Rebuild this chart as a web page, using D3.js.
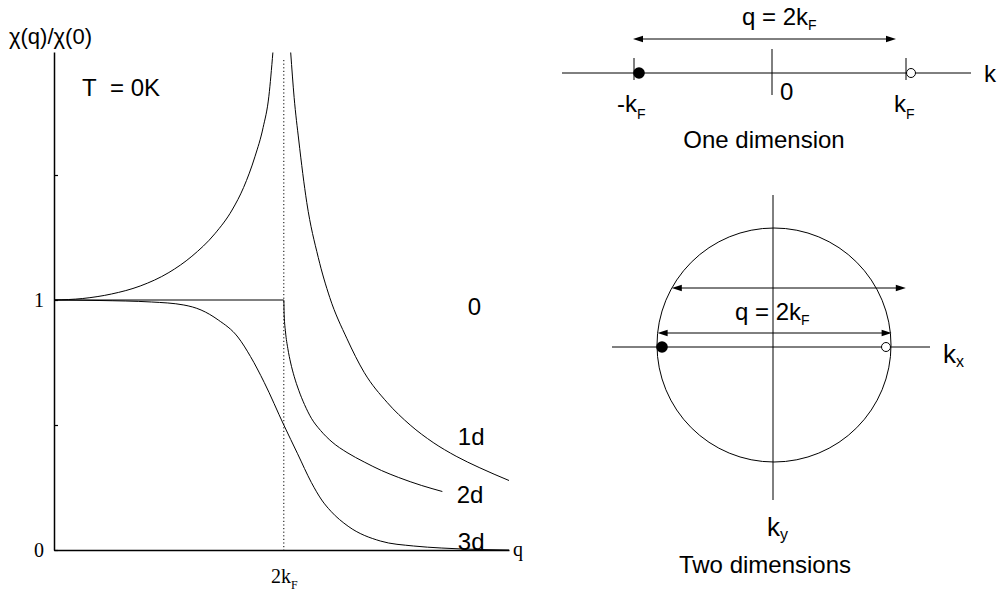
<!DOCTYPE html>
<html>
<head>
<meta charset="utf-8">
<script src="https://cdn.jsdelivr.net/npm/d3@7"></script>
<style>
  body { margin: 0; background: #fff; }
  svg { display: block; }
</style>
</head>
<body>
<svg id="chart" width="999" height="597"></svg>
<script>
// Static susceptibility chi(q)/chi(0) at T = 0K; q in units of k_F.
const q1dBelow   = [0, 0.25, 0.5, 0.75, 1.0, 1.2, 1.4, 1.55, 1.65, 1.75, 1.82, 1.87, 1.905];
const chi1dBelow = [1.0, 1.006, 1.024, 1.056, 1.11, 1.175, 1.265, 1.36, 1.45, 1.575, 1.69, 1.815, 1.99];

const q1dAbove   = [2.06, 2.09, 2.13, 2.2, 2.3, 2.4, 2.55, 2.7, 2.9, 3.1, 3.3, 3.5, 3.7, 3.96];
const chi1dAbove = [1.99, 1.81, 1.64, 1.39, 1.17, 1.01, 0.845, 0.71, 0.59, 0.5, 0.43, 0.375, 0.33, 0.278];

const q2d   = [0, 2.0, 2.003, 2.015, 2.035, 2.06, 2.09, 2.13, 2.18, 2.24, 2.32, 2.42, 2.55, 2.7, 2.85, 3.0, 3.2, 3.38];
const chi2d = [1.0, 1.0, 0.943, 0.872, 0.806, 0.748, 0.695, 0.639, 0.582, 0.527, 0.478, 0.432, 0.39, 0.352, 0.318, 0.29, 0.258, 0.234];

const q3d   = [0, 0.4, 0.85, 1.13, 1.28, 1.43, 1.6, 1.71, 1.83, 2.0, 2.12, 2.24, 2.33, 2.41, 2.56, 2.84, 3.13, 3.37, 3.7, 3.96];
const chi3d = [1.0, 0.998, 0.992, 0.98, 0.96, 0.92, 0.852, 0.774, 0.67, 0.5, 0.385, 0.27, 0.2, 0.155, 0.095, 0.036, 0.016, 0.008, 0.002, 0];

const yTickValues = [0, 0.5, 1, 1.5];
const yTickLabels = ["0", "", "1", ""];
const xTickValues = [2];
const curveLabels = ["0", "1d", "2d", "3d"];

const SANS = "'Liberation Sans', Arial, Helvetica, sans-serif";
const SERIF = "'Liberation Serif', 'Times New Roman', serif";

const svg = d3.select("#chart");
svg.append("rect").attr("width", 999).attr("height", 597).attr("fill", "#fff");

// ---------- left panel: response curves ----------
const x = d3.scaleLinear().domain([0, 3.96]).range([54, 509]);
const y = d3.scaleLinear().domain([0, 1.992]).range([550, 52]);

const plot = svg.append("g");

// dotted marker at q = 2k_F
plot.append("line")
  .attr("x1", x(2)).attr("x2", x(2))
  .attr("y1", 60).attr("y2", y(0))
  .attr("stroke", "#000").attr("stroke-width", 1)
  .attr("stroke-dasharray", "1.2,2.4");

const line = d3.line()
  .x(d => x(d[0])).y(d => y(d[1]))
  .curve(d3.curveMonotoneX);

const curves = [
  [q1dBelow, chi1dBelow],
  [q1dAbove, chi1dAbove],
  [q2d, chi2d],
  [q3d, chi3d]
];
curves.forEach(([qs, cs]) => {
  plot.append("path")
    .datum(d3.zip(qs, cs))
    .attr("d", line)
    .attr("fill", "none")
    .attr("stroke", "#000")
    .attr("stroke-width", 1);
});

// axes
const yAxis = d3.axisLeft(y)
  .tickValues(yTickValues)
  .tickFormat((d, i) => yTickLabels[i])
  .tickSizeInner(-4)
  .tickSizeOuter(0)
  .tickPadding(10);
const gy = plot.append("g").attr("transform", `translate(${x(0)},0)`).call(yAxis);
gy.select(".domain").attr("stroke-width", 1.5);
gy.selectAll(".tick line").attr("stroke-width", 1.2);
gy.selectAll(".tick text").attr("font-family", SERIF).attr("font-size", 20).attr("fill", "#000");

const xAxis = d3.axisBottom(x)
  .tickValues(xTickValues)
  .tickSize(0)
  .tickSizeOuter(0)
  .tickPadding(0);
const gx = plot.append("g").attr("transform", `translate(0,${y(0)})`).call(xAxis);
gx.select(".domain").attr("stroke-width", 1.5);
gx.selectAll(".tick text")
  .attr("font-family", SERIF).attr("font-size", 20).attr("fill", "#000")
  .attr("dy", null).attr("y", 33)
  .text(null)
  .each(function () {
    const t = d3.select(this);
    t.append("tspan").text("2k");
    t.append("tspan").attr("font-size", 12).attr("dy", 6).text("F");
  });

// axis titles
plot.append("text")
  .attr("x", 9).attr("y", 44)
  .attr("font-family", SANS).attr("font-size", 22)
  .text("\u03C7(q)/\u03C7(0)");
plot.append("text")
  .attr("x", 513).attr("y", 556)
  .attr("font-family", SERIF).attr("font-size", 20)
  .text("q");

// temperature note
const tNote = plot.append("text")
  .attr("x", 82).attr("y", 96)
  .attr("font-family", SANS).attr("font-size", 24);
tNote.append("tspan").text("T");
tNote.append("tspan").attr("x", 110).text("= 0K");

// curve labels
const labelSpots = [[3.6, 0.94], [3.515, 0.42], [3.505, 0.188], [3.515, 0.002]];
curveLabels.forEach((lab, i) => {
  plot.append("text")
    .attr("x", x(labelSpots[i][0])).attr("y", y(labelSpots[i][1]))
    .attr("font-family", SANS).attr("font-size", 24)
    .text(lab);
});

// ---------- helpers for the k-space sketches ----------
function arrowHead(g, tipX, tipY, dir) {
  const L = 10, H = 3.3;
  g.append("path")
    .attr("d", `M${tipX},${tipY} L${tipX - dir * L},${tipY - H} L${tipX - dir * L},${tipY + H} Z`)
    .attr("fill", "#000");
}
function doubleArrow(g, x1, x2, yy) {
  g.append("line").attr("x1", x1 + 4).attr("x2", x2 - 4).attr("y1", yy).attr("y2", yy)
    .attr("stroke", "#000").attr("stroke-width", 1);
  arrowHead(g, x1, yy, -1);
  arrowHead(g, x2, yy, 1);
}
function subLabel(g, xx, yy, main, sub, size, subSize, subDy, anchor) {
  const t = g.append("text").attr("x", xx).attr("y", yy)
    .attr("font-family", SANS).attr("font-size", size)
    .attr("text-anchor", anchor || "start");
  t.append("tspan").text(main);
  t.append("tspan").attr("font-size", subSize).attr("dy", subDy).text(sub);
  return t;
}

// ---------- one dimension ----------
const k1 = d3.scaleLinear().domain([-1, 1]).range([634, 906]);
const d1 = svg.append("g");
const axisY1 = 73;
d1.append("line").attr("x1", 562).attr("x2", 971).attr("y1", axisY1).attr("y2", axisY1)
  .attr("stroke", "#000").attr("stroke-width", 1);
d1.append("line").attr("x1", k1(0) + 2).attr("x2", k1(0) + 2).attr("y1", 49).attr("y2", 95)
  .attr("stroke", "#000").attr("stroke-width", 1);
[-1, 1].forEach(v => {
  d1.append("line").attr("x1", k1(v)).attr("x2", k1(v)).attr("y1", 58).attr("y2", 80)
    .attr("stroke", "#000").attr("stroke-width", 1);
});
d1.append("circle").attr("cx", k1(-1) + 5).attr("cy", axisY1).attr("r", 5.8).attr("fill", "#000");
d1.append("circle").attr("cx", k1(1) + 5).attr("cy", axisY1).attr("r", 4.5)
  .attr("fill", "#fff").attr("stroke", "#000").attr("stroke-width", 1);
doubleArrow(d1, k1(-1) - 1, k1(1) - 10, 39);
subLabel(d1, 742, 25, "q = 2k", "F", 24, 14, 5);
subLabel(d1, 617, 112, "-k", "F", 24, 14, 7);
subLabel(d1, 894, 112, "k", "F", 24, 14, 7);
d1.append("text").attr("x", 780).attr("y", 100)
  .attr("font-family", SANS).attr("font-size", 24).text("0");
d1.append("text").attr("x", 984).attr("y", 82)
  .attr("font-family", SANS).attr("font-size", 24).text("k");
d1.append("text").attr("x", 764).attr("y", 148).attr("text-anchor", "middle")
  .attr("font-family", SANS).attr("font-size", 24).text("One dimension");

// ---------- two dimensions ----------
const d2 = svg.append("g");
const cx2 = 774, cy2 = 346, rF = 117;
d2.append("circle").attr("cx", cx2).attr("cy", cy2 - 1).attr("r", rF)
  .attr("fill", "none").attr("stroke", "#000").attr("stroke-width", 1);
d2.append("line").attr("x1", 612).attr("x2", 930).attr("y1", cy2 + 1).attr("y2", cy2 + 1)
  .attr("stroke", "#000").attr("stroke-width", 1);
d2.append("line").attr("x1", cx2 - 1).attr("x2", cx2 - 1).attr("y1", 195).attr("y2", 500)
  .attr("stroke", "#000").attr("stroke-width", 1);
d2.append("circle").attr("cx", cx2 - rF + 5).attr("cy", cy2 + 1).attr("r", 5.8).attr("fill", "#000");
d2.append("circle").attr("cx", cx2 + rF - 5).attr("cy", cy2 + 1).attr("r", 4.5)
  .attr("fill", "#fff").attr("stroke", "#000").attr("stroke-width", 1);
// chords of length 2k_F
[288, 333].forEach(yy => {
  const half = Math.sqrt(rF * rF - (cy2 - 1 - yy) ** 2);
  const left = cx2 - half;
  doubleArrow(d2, left, left + 2 * rF, yy);
});
subLabel(d2, 735, 320, "q = 2k", "F", 24, 14, 5);
subLabel(d2, 943, 363, "k", "x", 26, 16, 4);
subLabel(d2, 767, 536, "k", "y", 26, 16, 4);
d2.append("text").attr("x", 765).attr("y", 573).attr("text-anchor", "middle")
  .attr("font-family", SANS).attr("font-size", 24).text("Two dimensions");
</script>
</body>
</html>
